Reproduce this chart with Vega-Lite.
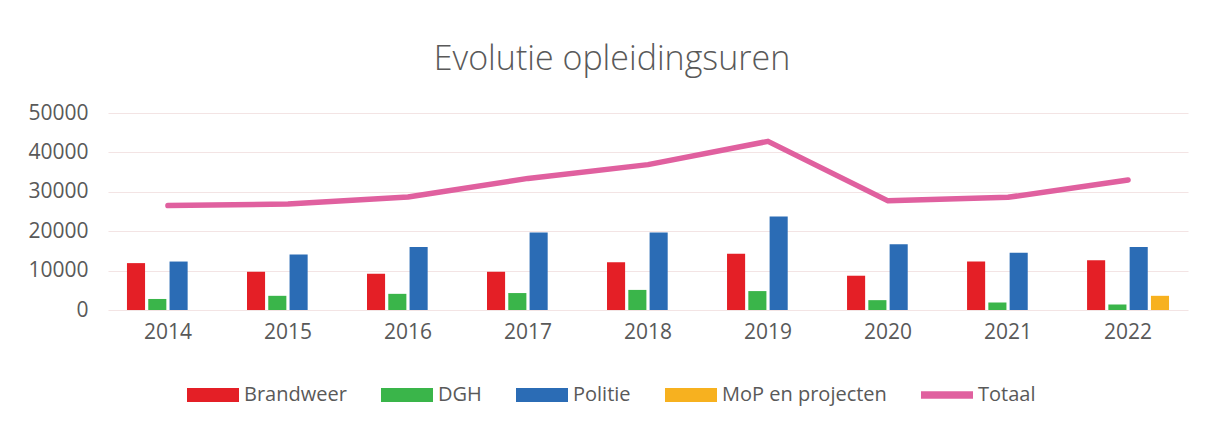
{
  "$schema": "https://vega.github.io/schema/vega-lite/v6.json",
  "width": 1080,
  "height": 197,
  "autosize": "none",
  "padding": {"left": 108, "top": 113, "right": 22, "bottom": 111},
  "background": "white",
  "title": {"text": "Evolutie opleidingsuren", "fontSize": 34, "font": "Open Sans", "fontWeight": 300, "color": "#595959", "offset": 25, "frame": "group", "dx": -36},
  "config": {"view": {"stroke": null}, "font": "Open Sans"},
  "data": {"values": [
    {"year": "2014", "series": "Brandweer", "value": 11900},
    {"year": "2015", "series": "Brandweer", "value": 9700},
    {"year": "2016", "series": "Brandweer", "value": 9200},
    {"year": "2017", "series": "Brandweer", "value": 9700},
    {"year": "2018", "series": "Brandweer", "value": 12100},
    {"year": "2019", "series": "Brandweer", "value": 14300},
    {"year": "2020", "series": "Brandweer", "value": 8700},
    {"year": "2021", "series": "Brandweer", "value": 12300},
    {"year": "2022", "series": "Brandweer", "value": 12600},
    {"year": "2014", "series": "DGH", "value": 2800},
    {"year": "2015", "series": "DGH", "value": 3600},
    {"year": "2016", "series": "DGH", "value": 4100},
    {"year": "2017", "series": "DGH", "value": 4300},
    {"year": "2018", "series": "DGH", "value": 5100},
    {"year": "2019", "series": "DGH", "value": 4800},
    {"year": "2020", "series": "DGH", "value": 2500},
    {"year": "2021", "series": "DGH", "value": 1900},
    {"year": "2022", "series": "DGH", "value": 1400},
    {"year": "2014", "series": "Politie", "value": 12300},
    {"year": "2015", "series": "Politie", "value": 14100},
    {"year": "2016", "series": "Politie", "value": 16000},
    {"year": "2017", "series": "Politie", "value": 19700},
    {"year": "2018", "series": "Politie", "value": 19700},
    {"year": "2019", "series": "Politie", "value": 23700},
    {"year": "2020", "series": "Politie", "value": 16700},
    {"year": "2021", "series": "Politie", "value": 14500},
    {"year": "2022", "series": "Politie", "value": 16000},
    {"year": "2022", "series": "MoP en projecten", "value": 3600},
    {"year": "2014", "series": "Totaal", "value": 26500},
    {"year": "2015", "series": "Totaal", "value": 26900},
    {"year": "2016", "series": "Totaal", "value": 28700},
    {"year": "2017", "series": "Totaal", "value": 33400},
    {"year": "2018", "series": "Totaal", "value": 36900},
    {"year": "2019", "series": "Totaal", "value": 42800},
    {"year": "2020", "series": "Totaal", "value": 27700},
    {"year": "2021", "series": "Totaal", "value": 28600},
    {"year": "2022", "series": "Totaal", "value": 33000}
  ]},
  "encoding": {
    "x": {
      "field": "year", "type": "nominal",
      "scale": {"paddingInner": 0.317, "paddingOuter": 0.158},
      "axis": {"title": null, "labelAngle": 0, "domain": false, "ticks": false, "grid": false, "labelFontSize": 21, "labelColor": "#595959", "labelPadding": 11}
    },
    "y": {
      "field": "value", "type": "quantitative",
      "scale": {"domain": [0, 50000]},
      "axis": {"title": null, "values": [0, 10000, 20000, 30000, 40000, 50000], "format": "d", "domain": false, "ticks": false, "gridColor": "#f3e4e4", "gridWidth": 1.2, "labelFontSize": 21, "labelColor": "#595959", "labelPadding": 20}
    }
  },
  "layer": [
    {
      "transform": [{"filter": "datum.series !== 'Totaal'"}],
      "mark": {"type": "bar"},
      "encoding": {
        "xOffset": {"field": "series", "type": "nominal", "scale": {"domain": ["Brandweer", "DGH", "Politie", "MoP en projecten"], "paddingInner": 0.15}},
        "color": {
          "field": "series", "type": "nominal",
          "scale": {"domain": ["Brandweer", "DGH", "Politie", "MoP en projecten", "Totaal"], "range": ["#e41f26", "#3ab54a", "#2b6cb5", "#f7b11f", "#e0609f"]},
          "legend": {
            "title": null, "orient": "none", "legendX": 79, "legendY": 256, "direction": "horizontal",
            "symbolType": "M-1,-0.28H1V0.28H-1Z", "symbolSize": 2704, "symbolStrokeWidth": 0,
            "labelFontSize": 20, "labelColor": "#595959", "labelOffset": 5, "columnPadding": 34, "labelLimit": 400,
            "encode": {"symbols": {"update": {"shape": [{"test": "datum.label === 'Totaal'", "value": "M-1,-0.14H1V0.14H-1Z"}, {"value": "M-1,-0.27H1V0.27H-1Z"}]}}}
          }
        }
      }
    },
    {
      "transform": [{"filter": "datum.series === 'Totaal'"}],
      "mark": {"type": "line", "strokeWidth": 5.5, "strokeCap": "round", "strokeJoin": "round"},
      "encoding": {
        "x": {"field": "year", "type": "nominal", "bandPosition": 0.5},
        "color": {"field": "series", "type": "nominal"}
      }
    }
  ]
}
